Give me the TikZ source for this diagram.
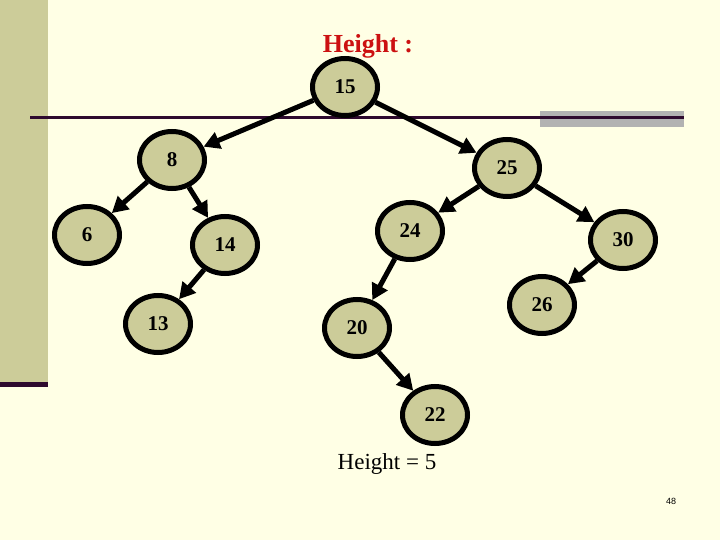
\documentclass[tikz,border=0pt]{standalone}
\usepackage{fontspec}
\setmainfont{Liberation Serif}
\newfontfamily\smallsans{Liberation Sans}
\usepackage{xcolor}
\usetikzlibrary{shapes.geometric,arrows.meta}

\definecolor{slidebg}{HTML}{FFFFE5}
\definecolor{olivebar}{HTML}{CCCC99}
\definecolor{plumline}{HTML}{2E0A2E}
\definecolor{greybar}{HTML}{B2B2B2}
\definecolor{titlered}{HTML}{CC1111}

\begin{document}
\begin{tikzpicture}[
    x=1pt, y=-1pt,
    key/.style={draw, ellipse, line width=5pt, fill=olivebar, minimum width=65pt, minimum height=57pt, inner sep=0pt, font=\fontsize{21}{21}\selectfont\bfseries},
    arr/.style={-{Triangle[length=16pt,width=17pt]}, line width=5pt},
]

% fond de la diapositive
\fill[slidebg] (0,0) rectangle (720,540);
\useasboundingbox (0,0) rectangle (720,540);
\fill[olivebar] (0,0) rectangle (48,382);
\fill[plumline] (0,382) rectangle (48,387);
\fill[greybar] (540,111) rectangle (684,127);
\draw[plumline, line width=3.5pt] (30,117.5) -- (684,117.5);

% titre
\node[text=titlered, font=\fontsize{26}{26}\selectfont\bfseries] (title) at (368,46) {Height :};

% arbre
\node[key] (n15) at (345,87)  {15};
\node[key] (n8)  at (172,160) {8};
\node[key] (n25) at (507,168) {25};
\node[key] (n6)  at (87,235)  {6};
\node[key] (n14) at (225,245) {14};
\node[key] (n24) at (410,231) {24};
\node[key] (n30) at (623,240) {30};
\node[key] (n13) at (158,324) {13};
\node[key] (n20) at (357,328) {20};
\node[key] (n26) at (542,305) {26};
\node[key] (n22) at (435,415) {22};

% aretes
\draw[arr] (n15) -- (n8);
\draw[arr] (n15) -- (n25);
\draw[arr] (n8) -- (n6);
\draw[arr] (n8) -- (n14);
\draw[arr] (n25) -- (n24);
\draw[arr] (n25) -- (n30);
\draw[arr] (n14) -- (n13);
\draw[arr] (n24) -- (n20);
\draw[arr] (n30) -- (n26);
\draw[arr] (n20) -- (n22);

% legende
\node[font=\fontsize{23}{23}\selectfont] (result) at (387,464) {Height = 5};
\node[font=\smallsans\fontsize{9}{9}\selectfont] (pageno) at (671,501) {48};

\end{tikzpicture}
\end{document}
